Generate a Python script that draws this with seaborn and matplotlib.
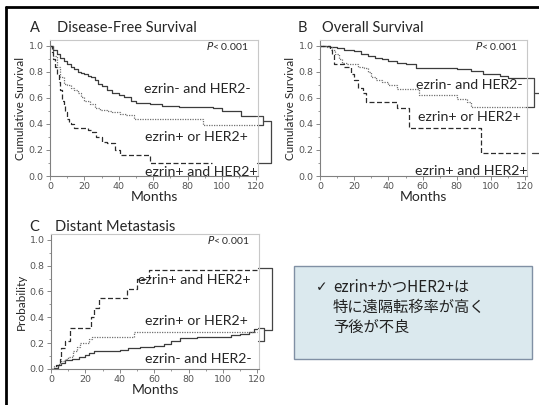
import numpy as np
import pandas as pd
import matplotlib
matplotlib.use("Agg")
import matplotlib.pyplot as plt
from matplotlib.lines import Line2D
from matplotlib.patches import Rectangle
from matplotlib.ticker import MultipleLocator
import seaborn as sns

# --- datos (meses, proporcion) ---
groups = ["ezrin- and HER2-", "ezrin+ or HER2+", "ezrin+ and HER2+"]

# A: Disease-Free Survival
dfs_neg_t = [0, 2, 4, 6, 8, 10, 12, 14, 16, 18, 20, 22, 24, 26, 28, 30, 33, 36, 40, 43, 47, 50, 58, 65, 75, 86, 95, 100, 111, 120]
dfs_neg_v = [1.0, 0.97, 0.94, 0.91, 0.88, 0.86, 0.84, 0.82, 0.80, 0.79, 0.78, 0.77, 0.76, 0.74, 0.71, 0.69, 0.66, 0.64, 0.62, 0.61, 0.58, 0.56, 0.55, 0.54, 0.53, 0.53, 0.52, 0.50, 0.46, 0.46]
dfs_or_t = [0, 2, 4, 6, 8, 10, 12, 14, 16, 18, 20, 23, 26, 29, 33, 36, 41, 44, 49, 89, 120]
dfs_or_v = [1.0, 0.92, 0.84, 0.76, 0.71, 0.70, 0.68, 0.66, 0.64, 0.61, 0.58, 0.55, 0.52, 0.51, 0.50, 0.49, 0.48, 0.47, 0.44, 0.39, 0.39]
dfs_and_t = [0, 1, 2, 3, 4, 5, 6, 7, 8, 9, 10, 11, 12, 14, 16, 22, 24, 27, 30, 33, 36, 38, 41, 58, 94]
dfs_and_v = [1.0, 0.95, 0.90, 0.84, 0.78, 0.72, 0.66, 0.58, 0.54, 0.49, 0.44, 0.41, 0.40, 0.37, 0.37, 0.35, 0.34, 0.30, 0.26, 0.25, 0.25, 0.20, 0.16, 0.10, 0.10]

# B: Overall Survival
os_neg_t = [0, 6, 10, 14, 20, 24, 28, 32, 36, 40, 45, 50, 56, 70, 80, 88, 95, 105, 110, 120]
os_neg_v = [1.0, 0.99, 0.98, 0.97, 0.96, 0.94, 0.92, 0.91, 0.90, 0.88, 0.87, 0.86, 0.83, 0.83, 0.82, 0.81, 0.78, 0.77, 0.75, 0.75]
os_or_t = [0, 4, 7, 9, 11, 13, 16, 22, 26, 28, 30, 33, 36, 40, 45, 56, 58, 76, 80, 86, 88, 120]
os_or_v = [1.0, 0.99, 0.97, 0.94, 0.90, 0.87, 0.86, 0.84, 0.83, 0.80, 0.76, 0.74, 0.72, 0.70, 0.67, 0.67, 0.62, 0.62, 0.59, 0.57, 0.53, 0.53]
os_and_t = [0, 6, 7, 8, 14, 18, 20, 22, 25, 27, 45, 50, 52, 94, 120]
os_and_v = [1.0, 0.97, 0.93, 0.86, 0.84, 0.78, 0.74, 0.68, 0.64, 0.57, 0.52, 0.52, 0.37, 0.18, 0.18]

# C: Distant Metastasis
dm_neg_t = [0, 2, 4, 6, 8, 12, 16, 20, 22, 25, 35, 40, 45, 52, 60, 66, 70, 75, 85, 95, 105, 110, 115, 118, 120]
dm_neg_v = [0.0, 0.01, 0.03, 0.05, 0.07, 0.08, 0.09, 0.11, 0.12, 0.14, 0.14, 0.15, 0.16, 0.17, 0.18, 0.19, 0.22, 0.24, 0.25, 0.25, 0.26, 0.27, 0.29, 0.31, 0.31]
dm_or_t = [0, 2, 4, 6, 8, 10, 12, 13, 15, 17, 19, 22, 24, 48, 120]
dm_or_v = [0.0, 0.02, 0.04, 0.06, 0.08, 0.09, 0.10, 0.14, 0.17, 0.20, 0.20, 0.23, 0.25, 0.29, 0.29]
dm_and_t = [0, 3, 5, 6, 8, 11, 23, 25, 28, 44, 50, 57, 120]
dm_and_v = [0.0, 0.03, 0.08, 0.16, 0.22, 0.32, 0.40, 0.47, 0.55, 0.62, 0.70, 0.77, 0.77]

x_ticks = [0, 20, 40, 60, 80, 100, 120]
y_ticks = [0.0, 0.2, 0.4, 0.6, 0.8, 1.0]

note_lines = ["ezrin+かつHER2+は", "特に遠隔転移率が高く", "予後が不良"]

sns.set_style("ticks")
plt.rcParams["font.family"] = ["Lato", "DejaVu Sans"]

W, H = 539, 405
fig = plt.figure(figsize=(W / 100, H / 100), dpi=100)


def fx(px):
    return px / W


def fy(py):
    return 1 - py / H


styles = {
    groups[0]: dict(color="#3c3c3c", linestyle="-"),
    groups[1]: dict(color="#707070", linestyle=(0, (1, 1))),
    groups[2]: dict(color="#2c2c2c", linestyle=(0, (4, 2))),
}


def draw_panel(ax, series, ylabel):
    for g, (t, v) in zip(groups, series):
        sns.lineplot(x=t, y=v, ax=ax, drawstyle="steps-post", lw=0.9,
                     estimator=None, **styles[g])
    ax.set_xlim(0, 121)
    ax.set_ylim(0, 1.045)
    ax.set_xticks(x_ticks)
    ax.set_yticks(y_ticks)
    ax.set_yticklabels([f"{v:.1f}" for v in y_ticks])
    ax.xaxis.set_minor_locator(MultipleLocator(10))
    ax.yaxis.set_minor_locator(MultipleLocator(0.1))
    for lab in ax.get_xticklabels() + ax.get_yticklabels():
        lab.set_family("DejaVu Sans")
        lab.set_fontsize(6.8)
        lab.set_color("#555555")
    ax.tick_params(which="major", length=3, width=0.7, color="#888888", pad=1.5)
    ax.tick_params(which="minor", length=1.5, width=0.6, color="#888888")
    ax.spines["left"].set_color("#808080")
    ax.spines["bottom"].set_color("#808080")
    ax.spines["top"].set_color("#c8c8c8")
    ax.spines["right"].set_color("#c8c8c8")
    for s in ax.spines.values():
        s.set_linewidth(0.8)
    ax.set_xlabel("Months", fontsize=10, labelpad=0)
    ax.set_ylabel(ylabel, fontsize=8.5, labelpad=2)
    ax.text(0.955, 0.955, "$P$< 0.001", transform=ax.transAxes, ha="right",
            va="center", fontsize=7.5, family=["Lato", "DejaVu Sans"])


def bracket(ax, pts):
    ax.add_line(Line2D([p[0] for p in pts], [p[1] for p in pts], color="#444444",
                       lw=0.9, clip_on=False))


# --- Panel A ---
axA = fig.add_axes([fx(50), fy(176), 208 / W, 136 / H])
draw_panel(axA, [(dfs_neg_t, dfs_neg_v), (dfs_or_t, dfs_or_v), (dfs_and_t, dfs_and_v)],
           "Cumulative Survival")
axA.text(116.5, 0.67, groups[0], ha="right", va="center", fontsize=10.2)
axA.text(115.3, 0.30, groups[1], ha="right", va="center", fontsize=10.2)
axA.text(120.6, 0.03, groups[2], ha="right", va="center", fontsize=10.2)
bracket(axA, [(120.5, 0.46), (124, 0.46), (124, 0.39), (120.5, 0.39)])
bracket(axA, [(124, 0.42), (128.5, 0.42), (128.5, 0.10), (120.5, 0.10)])
fig.text(fx(30), fy(28), "A", fontsize=10.5, va="center")
fig.text(fx(57), fy(28), "Disease-Free Survival", fontsize=10.5, va="center")

# --- Panel B ---
axB = fig.add_axes([fx(320), fy(176), 207 / W, 136 / H])
draw_panel(axB, [(os_neg_t, os_neg_v), (os_or_t, os_or_v), (os_and_t, os_and_v)],
           "Cumulative Survival")
axB.text(118.6, 0.70, groups[0], ha="right", va="center", fontsize=10.2)
axB.text(117.6, 0.45, groups[1], ha="right", va="center", fontsize=10.2)
axB.text(121.6, 0.04, groups[2], ha="right", va="center", fontsize=10.2)
bracket(axB, [(120.5, 0.75), (125, 0.75), (125, 0.53), (120.5, 0.53)])
bracket(axB, [(125, 0.64), (130, 0.64)])
bracket(axB, [(124, 0.18), (130, 0.18)])
fig.text(fx(298), fy(28), "B", fontsize=10.5, va="center")
fig.text(fx(322), fy(28), "Overall Survival", fontsize=10.5, va="center")

# --- Panel C ---
axC = fig.add_axes([fx(51), fy(369), 208 / W, 135 / H])
draw_panel(axC, [(dm_neg_t, dm_neg_v), (dm_or_t, dm_or_v), (dm_and_t, dm_and_v)],
           "Probability")
axC.text(115.9, 0.69, groups[2], ha="right", va="center", fontsize=10.2)
axC.text(114.8, 0.37, groups[1], ha="right", va="center", fontsize=10.2)
axC.text(117.0, 0.08, groups[0], ha="right", va="center", fontsize=10.2)
bracket(axC, [(120.5, 0.32), (124, 0.32), (124, 0.22), (120.5, 0.22)])
bracket(axC, [(120.5, 0.78), (128.5, 0.78), (128.5, 0.30), (124, 0.30)])
fig.text(fx(29), fy(227), "C", fontsize=10.5, va="center")
fig.text(fx(55), fy(227), "Distant Metastasis", fontsize=10.5, va="center")

# --- cuadro de texto ---
fig.add_artist(Rectangle((fx(294), fy(359)), (532 - 294) / W, (359 - 266) / H,
                         transform=fig.transFigure, facecolor="#dbe9ee",
                         edgecolor="#8090a4", lw=1.0))
fig.text(fx(316), fy(287), "✓", fontsize=10, va="center", family=["DejaVu Sans"],
         color="#222222")
for i, line in enumerate(note_lines):
    fig.text(fx(333), fy(287 + 20 * i), line, fontsize=11, va="center",
             family=["Noto Sans CJK JP", "DejaVu Sans"], color="#222222")

# --- marco ---
fig.add_artist(Line2D([fx(6), 1], [fy(7), fy(7)], color="black", lw=2,
                      transform=fig.transFigure))
fig.add_artist(Line2D([fx(6), fx(6)], [fy(7), 0], color="black", lw=2,
                      transform=fig.transFigure))

fig.savefig("out.png", dpi=100)
